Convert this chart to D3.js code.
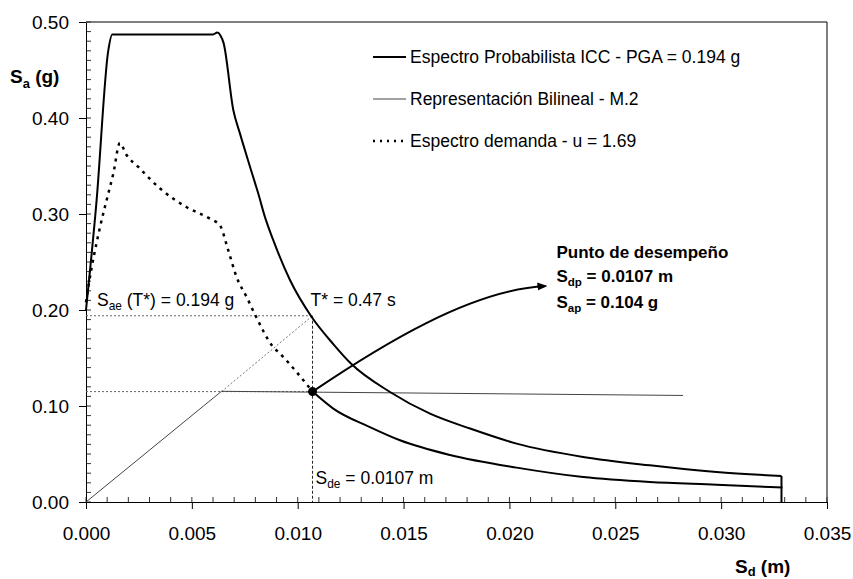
<!DOCTYPE html>
<html>
<head>
<meta charset="utf-8">
<script src="https://cdn.jsdelivr.net/npm/d3@7"></script>
<style>
  body { margin: 0; background: #fff; }
  text { font-family: "Liberation Sans", Arial, sans-serif; fill: #000; }
</style>
</head>
<body>
<div id="chart"></div>
<script>
// Sd (m), Sa (g) pairs
var iccSpectrum = [
  [0.0000, 0.200], [0.0005, 0.314], [0.00105, 0.470], [0.00124, 0.487],
  [0.0060, 0.487], [0.0062, 0.489], [0.00635, 0.486], [0.0065, 0.478],
  [0.00696, 0.408], [0.00727, 0.384], [0.00775, 0.349], [0.00814, 0.321],
  [0.00845, 0.297], [0.00884, 0.273], [0.00964, 0.231], [0.01066, 0.1927],
  [0.01168, 0.1645], [0.0125, 0.1445], [0.01436, 0.1146], [0.01625, 0.092],
  [0.01814, 0.0765], [0.02034, 0.0608], [0.02348, 0.0469], [0.02663, 0.0382],
  [0.02978, 0.0313], [0.03285, 0.0271]
]
var iccCutoff = [[0.03285, 0.0271], [0.03285, 0.0]]
var demandSpectrum = [
  [0.0000, 0.208], [0.00011, 0.224], [0.00066, 0.286], [0.00105, 0.321],
  [0.00129, 0.342], [0.0016, 0.374], [0.0019, 0.362], [0.00247, 0.349],
  [0.0035, 0.3265], [0.00476, 0.307], [0.00586, 0.295], [0.00633, 0.288],
  [0.00672, 0.262], [0.00712, 0.234], [0.00759, 0.2135], [0.0080, 0.1945],
  [0.00884, 0.1615], [0.00916, 0.1546], [0.0107, 0.115], [0.01168, 0.0973],
  [0.01341, 0.078], [0.01483, 0.0643], [0.01719, 0.049], [0.02034, 0.0358],
  [0.02348, 0.026], [0.02663, 0.0208], [0.02978, 0.018], [0.0323, 0.0156],
  [0.0329, 0.015]
]
var bilinear = [[0, 0], [0.0064, 0.1153], [0.0282, 0.111]]

var perfPoint = [0.0107, 0.115]
var tStarPoint = [0.0107, 0.194]
var yieldPoint = [0.0064, 0.115]
var arrowEnd = [0.0217, 0.225]

var xTicks = [0, 0.005, 0.010, 0.015, 0.020, 0.025, 0.030, 0.035]
var yTicks = [0, 0.1, 0.2, 0.3, 0.4, 0.5]

var legendLabels = [
  "Espectro Probabilista ICC - PGA = 0.194 g",
  "Representación Bilineal - M.2",
  "Espectro demanda - u = 1.69"
]

var svgSize = { width: 853, height: 579 }
var margin = { top: 22, left: 86, right: 26, bottom: 77 }
var chartSize = {
  width: svgSize.width - margin.left - margin.right,
  height: svgSize.height - margin.top - margin.bottom
}

var svg = d3.select("#chart").append("svg")
  .attr("width", svgSize.width)
  .attr("height", svgSize.height)

var frame = svg.append("g")
  .attr("transform", "translate(" + margin.left + "," + margin.top + ")")

var xScale = d3.scaleLinear().domain([0, 0.035]).range([0, chartSize.width])
var yScale = d3.scaleLinear().domain([0, 0.5]).range([chartSize.height, 0])

// border (top and right)
frame.append("path")
  .attr("d", "M0,0H" + chartSize.width + "V" + chartSize.height)
  .attr("fill", "none").attr("stroke", "#000").attr("stroke-width", 1)

// minor ticks
var xMinor = d3.range(0, 36).map(i => i * 0.001)
var yMinor = d3.range(0, 51).map(i => i * 0.01)
frame.append("g").selectAll("line").data(xMinor).enter().append("line")
  .attr("x1", d => xScale(d)).attr("x2", d => xScale(d))
  .attr("y1", chartSize.height).attr("y2", chartSize.height - 5)
  .attr("stroke", "#333").attr("stroke-width", 1)
frame.append("g").selectAll("line").data(yMinor).enter().append("line")
  .attr("y1", d => yScale(d)).attr("y2", d => yScale(d))
  .attr("x1", 0).attr("x2", 5)
  .attr("stroke", "#333").attr("stroke-width", 1)

var bottomAxis = d3.axisBottom(xScale).tickValues(xTicks)
  .tickFormat(d3.format(".3f")).tickSizeInner(7).tickSizeOuter(0).tickPadding(18)
var leftAxis = d3.axisLeft(yScale).tickValues(yTicks)
  .tickFormat(d3.format(".2f")).tickSizeInner(7).tickSizeOuter(0).tickPadding(10)

var gx = frame.append("g").attr("transform", "translate(0," + chartSize.height + ")").call(bottomAxis)
var gy = frame.append("g").call(leftAxis)
;[gx, gy].forEach(g => {
  g.selectAll("text").style("font-size", "19px").attr("fill", "#000")
    .style("font-family", "'Liberation Sans', Arial, sans-serif")
  g.selectAll("line").attr("stroke", "#000")
  g.select(".domain").attr("stroke", "#000")
})
gy.selectAll("text").attr("dy", "0.36em")

// guide lines
function guide(points, dash, color) {
  frame.append("path")
    .attr("d", d3.line().x(d => xScale(d[0])).y(d => yScale(d[1]))(points))
    .attr("fill", "none").attr("stroke", color).attr("stroke-width", 1)
    .attr("stroke-dasharray", dash)
}
guide([[0, tStarPoint[1]], tStarPoint], "2,2", "#666")
guide([[0, perfPoint[1]], perfPoint], "2,2", "#666")
guide([tStarPoint, [tStarPoint[0], 0]], "3,2", "#222")
guide([yieldPoint, tStarPoint], "2,2", "#777")

var line = d3.line().x(d => xScale(d[0])).y(d => yScale(d[1]))
var smooth = d3.line().x(d => xScale(d[0])).y(d => yScale(d[1])).curve(d3.curveMonotoneX)

// bilinear
frame.append("path").attr("d", line(bilinear))
  .attr("fill", "none").attr("stroke", "#444").attr("stroke-width", 1)

// ICC spectrum
frame.append("path").attr("d", smooth(iccSpectrum))
  .attr("fill", "none").attr("stroke", "#000").attr("stroke-width", 2)
frame.append("path").attr("d", line(iccCutoff))
  .attr("fill", "none").attr("stroke", "#000").attr("stroke-width", 2)

// demand spectrum: dotted part then dense part
var cut = perfPoint[0]
frame.append("path").attr("d", smooth(demandSpectrum.filter(d => d[0] <= cut)))
  .attr("fill", "none").attr("stroke", "#000").attr("stroke-width", 2.5)
  .attr("stroke-dasharray", "3,5")
frame.append("path").attr("d", smooth(demandSpectrum.filter(d => d[0] >= cut)))
  .attr("fill", "none").attr("stroke", "#000").attr("stroke-width", 2)

// arrow
svg.append("defs").append("marker")
  .attr("id", "arr").attr("viewBox", "0 0 10 10").attr("refX", 8).attr("refY", 5)
  .attr("markerWidth", 5).attr("markerHeight", 5).attr("orient", "auto")
  .append("path").attr("d", "M0,1L10,5L0,9Z").attr("fill", "#000")

var p0 = [xScale(perfPoint[0]), yScale(perfPoint[1])]
var p3 = [xScale(arrowEnd[0]), yScale(arrowEnd[1])]
frame.append("path")
  .attr("d", "M" + p0 + "C" + [p0[0] + 68, p0[1] - 46] + " " + [p3[0] - 75, p3[1] + 4] + " " + p3)
  .attr("fill", "none").attr("stroke", "#000").attr("stroke-width", 2)
  .attr("marker-end", "url(#arr)")

frame.append("circle").attr("cx", p0[0]).attr("cy", p0[1]).attr("r", 4.5).attr("fill", "#000")

// text helper with subscript
function subText(parent, x, y, main, sub, rest, size, bold, drop) {
  var off = drop || size * 0.25
  var t = parent.append("text").attr("x", x).attr("y", y)
    .style("font-size", size + "px").style("font-weight", bold ? "bold" : "normal")
  t.append("tspan").text(main)
  t.append("tspan").attr("dy", off).style("font-size", (size * 0.68) + "px").text(sub)
  t.append("tspan").attr("dy", -off).text(rest)
  return t
}

// axis titles
subText(svg, 10, 83, "S", "a", " (g)", 19, true)
subText(svg, 735, 573, "S", "d", " (m)", 19, true, 3)

// annotations
subText(frame, xScale(0) + 11, yScale(tStarPoint[1]) - 10, "S", "ae", " (T*) = 0.194 g", 17.5, false)
frame.append("text").attr("x", xScale(tStarPoint[0]) - 2).attr("y", yScale(tStarPoint[1]) - 10)
  .style("font-size", "17.5px").text("T* = 0.47 s")
subText(frame, xScale(perfPoint[0]) + 3, yScale(0) - 18, "S", "de", " = 0.0107 m", 17.5, false)

var ax = p3[0] + 11
frame.append("text").attr("x", ax).attr("y", p3[1] - 28)
  .style("font-size", "17px").style("font-weight", "bold").text("Punto de desempeño")
subText(frame, ax, p3[1] - 4, "S", "dp", " = 0.0107 m", 17, true)
subText(frame, ax, p3[1] + 22, "S", "ap", " = 0.104 g", 17, true)

// legend
var legend = svg.append("g").attr("transform", "translate(373,57)")
var legendStyles = [
  { w: 2, c: "#000", dash: null },
  { w: 1, c: "#444", dash: null },
  { w: 2.5, c: "#000", dash: "2,5" }
]
legendLabels.forEach((lab, i) => {
  var g = legend.append("g").attr("transform", "translate(0," + (i * 42) + ")")
  g.append("line").attr("x1", 0).attr("x2", 33).attr("y1", 0).attr("y2", 0)
    .attr("stroke", legendStyles[i].c).attr("stroke-width", legendStyles[i].w)
    .attr("stroke-dasharray", legendStyles[i].dash)
  g.append("text").attr("x", 37).attr("y", 6).style("font-size", "17.5px").text(lab)
})
</script>
</body>
</html>
